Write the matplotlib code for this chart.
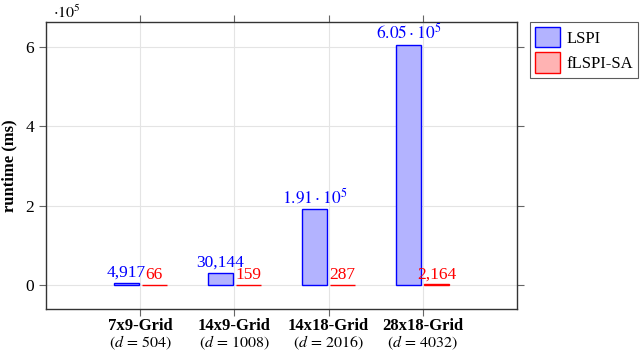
import matplotlib
matplotlib.use("Agg")
import matplotlib.pyplot as plt
import matplotlib.ticker as mticker
import numpy as np

plt.rcParams['font.family'] = ['Liberation Serif', 'DejaVu Serif']
plt.rcParams['mathtext.fontset'] = 'stix'

# data
grids = ["7x9-Grid", "14x9-Grid", "14x18-Grid", "28x18-Grid"]
dims = [504, 1008, 2016, 4032]
lspi = [4917, 30144, 191000, 605000]
flspi = [66, 159, 287, 2164]
lspi_labels = ["4,917", "30,144", r"$1.91\cdot10^5$", r"$6.05\cdot10^5$"]
flspi_labels = ["66", "159", "287", "2,164"]

fig = plt.figure(figsize=(6.4, 3.52), dpi=100)
ax = fig.add_axes([0.0719, 0.1222, 0.736, 0.8153])

x = np.arange(len(grids))
w = 0.265
off = 0.148
b1 = ax.bar(x - off, lspi, w, color="#b3b3ff", edgecolor="blue", linewidth=1, label="LSPI", zorder=3)
b2 = ax.bar(x + off, flspi, w, color="#ffb3b3", edgecolor="red", linewidth=1, label="fLSPI-SA", zorder=3)

# numbers above the bars
for xi, v, t in zip(x, lspi, lspi_labels):
    ax.annotate(t, (xi - off, v), xytext=(0, 1.5), textcoords="offset points",
                ha="center", va="bottom", color="blue", fontsize=12.5)
for xi, v, t in zip(x, flspi, flspi_labels):
    ax.annotate(t, (xi + off, v), xytext=(0, 1.5), textcoords="offset points",
                ha="center", va="bottom", color="red", fontsize=12.5)

ax.set_xlim(-1, 4)
ax.set_ylim(-0.6e5, 6.63e5)
ax.set_yticks([0, 2e5, 4e5, 6e5])
ax.yaxis.set_major_formatter(mticker.FuncFormatter(lambda v, p: f"{v/1e5:.0f}"))
ax.set_xticks(x)
ax.set_xticklabels(grids, fontweight="bold", fontsize=12)
# second line of the category labels
for xi, d in zip(x, dims):
    ax.text(xi, -0.119, rf"$(d\,=\,{d})$", transform=ax.get_xaxis_transform(),
            ha="center", va="center", fontsize=11.5)
ax.tick_params(axis="y", labelsize=12.5)
ax.tick_params(axis="x", pad=1.5)
ax.tick_params(direction="out", length=5, color="#666666", top=True, right=True,
               labeltop=False, labelright=False)
ax.grid(True, color="#e4e4e4", linewidth=0.8, zorder=0)
ax.set_axisbelow(True)
for s in ax.spines.values():
    s.set_color("#333333")
    s.set_linewidth(1)

ax.set_ylabel("runtime (ms)", fontweight="bold", fontsize=12, labelpad=6)
ax.text(0.014, 1.0, r"$\cdot10^5$", transform=ax.transAxes, ha="left", va="bottom", fontsize=11.5)

leg = fig.legend(handles=[b1, b2], loc="upper right", bbox_to_anchor=(0.997, 0.9375),
                 borderaxespad=0, fancybox=False, edgecolor="#333333", fontsize=12,
                 handlelength=1.5, handleheight=1.5, borderpad=0.3, labelspacing=0.3,
                 handletextpad=0.4)
leg.get_frame().set_linewidth(0.8)

fig.savefig("out.png", dpi=100)
